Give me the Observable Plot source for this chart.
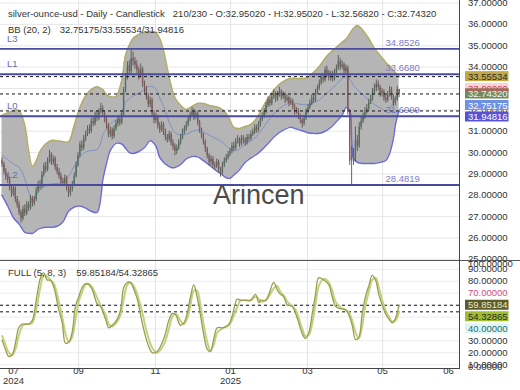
<!DOCTYPE html>
<html><head><meta charset="utf-8">
<script src="https://cdn.jsdelivr.net/npm/d3@7"></script>
<script src="https://cdn.jsdelivr.net/npm/@observablehq/plot@0.6"></script>
<style>
html,body{margin:0;padding:0;background:#fff;}
#wrap{position:relative;width:520px;height:390px;overflow:hidden;font-family:'Liberation Sans',Arial,sans-serif;}
.t{position:absolute;font-size:9.5px;line-height:11px;color:#333;white-space:pre;}
.ln{position:absolute;background:#4a4a4a;}
</style></head><body>
<div id="wrap"></div>
<script>
// ---------- data ----------
const open = [29.60,29.45,29.10,28.85,28.70,28.35,28.05,28.30,27.80,27.55,
27.20,26.90,27.35,27.15,27.55,27.40,27.85,27.60,27.80,28.20,
28.50,28.40,28.95,29.35,29.20,29.60,29.90,29.55,29.70,29.30,
29.10,28.90,28.65,28.55,28.80,28.35,28.10,28.30,28.50,28.90,
29.40,29.85,30.35,30.20,30.65,30.85,31.10,31.00,31.45,31.35,
31.75,31.60,31.90,32.05,31.85,31.55,31.25,30.85,31.05,30.75,
31.10,31.35,31.55,31.40,31.80,32.90,33.50,34.05,33.80,34.40,
34.25,34.10,33.85,33.60,33.90,33.20,32.95,32.60,32.25,32.45,
31.80,31.50,31.65,31.25,31.05,31.30,30.95,30.70,30.60,30.85,
30.45,30.30,30.05,30.20,30.45,30.70,30.95,31.10,31.30,31.55,
31.75,31.90,31.65,31.80,31.40,31.05,30.80,30.50,30.15,29.85,
29.55,29.70,29.40,29.35,29.55,29.20,29.05,29.40,29.60,29.75,
29.90,30.05,30.30,30.20,30.50,30.60,30.40,30.65,30.55,30.45,
30.70,30.65,30.85,30.95,31.15,31.05,31.30,31.55,31.70,31.90,
32.20,32.45,32.30,32.60,32.75,32.50,32.70,32.85,32.60,32.70,
32.45,32.55,32.30,32.40,32.15,31.90,31.95,31.70,31.50,31.35,
31.60,31.90,32.10,32.30,32.55,32.45,32.80,33.00,33.25,33.50,
33.40,33.85,33.70,33.50,33.65,33.45,33.75,33.95,34.25,34.00,
34.10,33.80,33.95,31.90,29.60,29.85,29.70,30.55,30.30,31.20,
31.45,31.65,31.90,32.05,32.35,32.50,32.80,33.00,33.20,33.05,
32.75,32.85,32.55,32.45,32.70,32.95,32.60,32.30,32.45,32.95];
const high = [29.75,29.55,29.25,29.00,28.85,28.50,28.45,28.40,27.95,27.70,
27.30,27.50,27.55,27.70,27.70,28.00,27.95,27.95,28.35,28.65,
28.70,29.10,29.50,29.55,29.75,30.10,30.00,29.85,29.80,29.45,
29.25,29.05,28.80,28.95,28.90,28.50,28.45,28.65,29.05,29.55,
30.00,30.50,30.55,30.80,31.00,31.25,31.30,31.60,31.65,31.90,
31.95,32.05,32.30,32.20,31.95,31.65,31.35,31.20,31.15,31.25,
31.50,31.70,31.70,31.95,33.05,33.70,34.25,34.30,34.85,34.70,
34.45,34.30,34.00,34.15,34.00,33.35,33.10,32.75,32.60,32.55,
31.95,31.85,31.75,31.40,31.45,31.40,31.10,30.85,31.00,30.95,
30.60,30.40,30.35,30.60,30.85,31.10,31.25,31.45,31.70,31.90,
32.10,32.05,31.95,31.90,31.50,31.15,30.90,30.60,30.25,29.95,
29.85,29.80,29.55,29.70,29.65,29.30,29.55,29.75,29.90,30.05,
30.20,30.45,30.50,30.65,30.80,30.70,30.80,30.80,30.70,30.85,
30.85,31.00,31.10,31.30,31.30,31.45,31.70,31.85,32.05,32.35,
32.60,32.60,32.75,32.95,32.85,32.85,33.05,32.95,32.85,32.80,
32.70,32.65,32.55,32.50,32.25,32.10,32.05,31.80,31.60,31.75,
32.05,32.25,32.45,32.70,32.70,32.95,33.15,33.40,33.65,33.70,
34.00,34.05,33.85,33.80,33.80,33.90,34.10,34.55,34.40,34.30,
34.20,34.10,34.05,32.00,30.30,30.20,31.20,30.80,31.40,31.65,
31.85,32.10,32.25,32.50,32.70,33.00,33.20,33.40,33.35,33.15,
33.00,32.95,32.70,32.85,33.10,33.05,32.70,32.60,33.10,32.95];
const low = [29.30,28.95,28.70,28.55,28.20,27.90,27.95,27.65,27.40,27.05,
26.70,26.80,27.00,27.05,27.25,27.30,27.45,27.50,27.70,28.10,
28.25,28.30,28.85,29.05,29.10,29.50,29.40,29.40,29.15,28.95,
28.75,28.50,28.40,28.45,28.20,27.90,27.95,28.15,28.40,28.80,
29.30,29.75,30.05,30.10,30.50,30.75,30.85,30.90,31.20,31.25,
31.45,31.50,31.80,31.70,31.40,31.10,30.70,30.70,30.60,30.65,
31.00,31.20,31.25,31.30,31.70,32.80,33.40,33.65,33.70,34.05,
33.90,33.70,33.40,33.50,33.05,32.75,32.45,32.10,32.10,31.65,
31.35,31.35,31.10,30.90,30.95,30.80,30.55,30.45,30.50,30.30,
30.10,29.85,29.90,30.10,30.35,30.60,30.85,31.00,31.20,31.45,
31.65,31.50,31.55,31.25,30.90,30.65,30.35,30.00,29.70,29.40,
29.40,29.25,29.20,29.25,29.05,28.85,28.95,29.30,29.50,29.65,
29.80,29.95,30.05,30.10,30.40,30.25,30.30,30.40,30.30,30.35,
30.50,30.55,30.75,30.85,30.90,30.95,31.20,31.45,31.60,31.80,
32.10,32.15,32.20,32.50,32.35,32.40,32.60,32.45,32.50,32.30,
32.35,32.15,32.20,32.00,31.75,31.80,31.55,31.35,31.15,31.25,
31.50,31.80,32.00,32.20,32.30,32.35,32.70,32.90,33.15,33.25,
33.30,33.55,33.35,33.35,33.30,33.35,33.65,33.85,33.85,33.90,
33.65,33.60,31.75,29.40,28.48,29.40,29.55,30.05,30.20,31.05,
31.35,31.55,31.80,31.95,32.25,32.40,32.70,32.85,32.90,32.60,
32.60,32.40,32.30,32.35,32.60,32.45,32.15,32.20,32.40,32.57];
const close = [29.45,29.10,28.85,28.70,28.35,28.05,28.30,27.80,27.55,27.20,
26.90,27.35,27.15,27.55,27.40,27.85,27.60,27.80,28.20,28.50,
28.40,28.95,29.35,29.20,29.60,29.90,29.55,29.70,29.30,29.10,
28.90,28.65,28.55,28.80,28.35,28.10,28.30,28.50,28.90,29.40,
29.85,30.35,30.20,30.65,30.85,31.10,31.00,31.45,31.35,31.75,
31.60,31.90,32.05,31.85,31.55,31.25,30.85,31.05,30.75,31.10,
31.35,31.55,31.40,31.80,32.90,33.50,34.05,33.80,34.40,34.25,
34.10,33.85,33.60,33.90,33.20,32.95,32.60,32.25,32.45,31.80,
31.50,31.65,31.25,31.05,31.30,30.95,30.70,30.60,30.85,30.45,
30.30,30.05,30.20,30.45,30.70,30.95,31.10,31.30,31.55,31.75,
31.90,31.65,31.80,31.40,31.05,30.80,30.50,30.15,29.85,29.55,
29.70,29.40,29.35,29.55,29.20,29.05,29.40,29.60,29.75,29.90,
30.05,30.30,30.20,30.50,30.60,30.40,30.65,30.55,30.45,30.70,
30.65,30.85,30.95,31.15,31.05,31.30,31.55,31.70,31.90,32.20,
32.45,32.30,32.60,32.75,32.50,32.70,32.85,32.60,32.70,32.45,
32.55,32.30,32.40,32.15,31.90,31.95,31.70,31.50,31.35,31.60,
31.90,32.10,32.30,32.55,32.45,32.80,33.00,33.25,33.50,33.40,
33.85,33.70,33.50,33.65,33.45,33.75,33.95,34.25,34.00,34.10,
33.80,33.95,31.90,29.60,29.85,29.70,30.55,30.30,31.20,31.45,
31.65,31.90,32.05,32.35,32.50,32.80,33.00,33.20,33.05,32.75,
32.85,32.55,32.45,32.70,32.95,32.60,32.30,32.45,32.95,32.74320];

// Bollinger band (20, 2) read at bar indexes
const bbI = [0,3,6,9,12,14,16,18,20,23,26,29,32,35,38,41,44,47,50,52,53,55,57,60,63,65,67,69,72,75,78,81,83,85,87,89,91,94,97,100,103,106,109,112,115,118,120,122,125,128,131,134,137,140,143,146,149,152,155,158,161,164,167,170,173,176,179,181,183,184,185,187,190,193,196,199,202,204,206,207,208,209];
const bbUp = [31.74,31.85,31.97,31.97,31.27,30.10,29.35,29.60,30.05,30.40,30.57,30.55,30.52,30.50,31.27,32.10,32.65,32.95,33.08,33.00,32.95,32.72,32.62,32.62,33.38,34.55,35.02,35.34,35.53,35.63,35.67,35.63,35.34,34.78,33.94,33.14,32.58,32.21,32.02,32.16,32.30,32.30,32.21,32.16,32.07,31.83,31.51,31.18,31.13,31.22,31.32,31.60,32.07,32.54,32.91,33.19,33.38,33.47,33.47,33.47,33.52,33.75,34.03,34.41,34.69,34.92,35.16,35.30,35.55,35.70,35.81,35.95,35.72,35.34,34.88,34.55,34.22,34.05,33.85,33.75,33.65,33.55534];
const bbLo = [28.00,27.50,26.95,26.65,26.26,26.22,26.22,26.35,26.45,26.50,26.50,26.55,26.75,27.25,27.45,27.50,27.40,27.25,27.20,27.90,28.70,29.49,30.10,30.43,30.40,30.20,30.00,29.96,30.05,30.24,30.55,30.30,29.77,29.55,29.40,29.30,29.30,29.45,29.70,29.82,29.80,29.62,29.42,29.20,29.02,28.82,28.80,28.95,29.20,29.55,29.75,29.92,30.15,30.43,30.72,30.95,31.10,31.18,31.10,31.02,30.93,30.90,30.90,31.00,31.18,31.45,31.75,32.11,31.97,30.57,29.73,29.54,29.49,29.49,29.49,29.54,29.63,29.96,30.66,31.27,31.69,31.94816];
const bbMid = [29.87,29.68,29.46,29.31,28.77,28.16,27.79,27.98,28.25,28.45,28.54,28.55,28.64,28.88,29.36,29.80,30.03,30.10,30.14,30.45,30.83,31.11,31.36,31.53,31.89,32.38,32.51,32.65,32.79,32.94,33.11,32.97,32.56,32.17,31.67,31.22,30.94,30.83,30.86,30.99,31.05,30.96,30.82,30.68,30.55,30.33,30.16,30.07,30.17,30.39,30.54,30.76,31.11,31.49,31.82,32.07,32.24,32.33,32.29,32.25,32.23,32.33,32.47,32.71,32.94,33.19,33.46,33.55,33.45,33.30,33.15,32.95,32.70,32.45,32.25,32.10,31.95,32.05,32.35,32.55,32.68,32.75175];

// Full stochastic (5, 8, 3)
const stI = [0.1,1.8,3.6,5.4,7.1,8.8,10.6,12.4,14.1,15.9,16.7,18.5,20.3,22.0,23.8,25.5,27.3,29.9,31.7,33.4,35.2,36.9,38.7,40.4,42.2,43.9,45.7,47.5,50.1,51.8,54.5,56.2,58.0,60.6,62.4,64.1,65.9,67.6,69.4,71.2,73.8,76.4,79.1,81.7,85.2,87.8,89.6,91.3,93.9,95.7,97.5,99.2,100.9,102.7,104.5,106.2,108.0,109.7,111.5,113.3,116.7,119.4,121.2,123.8,125.5,128.2,130.8,133.4,135.2,136.1,138.7,140.4,143.0,144.8,146.6,148.3,150.1,152.7,154.5,156.2,158.0,159.7,161.5,163.3,165.0,166.7,169.4,172.0,173.8,175.5,178.2,180.8,182.5,184.3,186.1,187.8,189.6,191.3,193.2,194.8,196.6,198.3,200.1,201.8,203.7,205.4,207.1,209];
const stK = [30.6,22.6,16.9,18.5,28.2,41,44,44,44,47,51,69,83,87,81,81,75,56,45,28,29,37,59,67,75,78,77,73,61,59,48,41,43,48,56,75,79,79,73,65,45,29,20,21,32,47,53,52,43,45,53,67,77,67,51,35,23,21,32,41,41,44,51,65,64,64,64,69,62,64,64,69,79,73,69,67,60,59,53,45,36,32,37,53,69,83,81,77,67,59,57,56,52,43,31,33,53,67,77,85,81,69,60,53,48,45,49,59.85184];
const stD = [34,27,20,18,23,34,42,44,44,45,48,60,76,85,84,81,78,63,50,36,29,33,48,63,71,77,78,75,66,60,52,44,42,46,52,65,77,79,76,69,54,36,24,20,27,40,50,53,47,44,49,60,72,72,59,43,29,22,27,37,41,43,48,58,64,64,64,67,65,63,64,67,74,76,71,68,63,59,56,49,40,34,35,45,61,76,82,79,72,63,58,56,54,47,37,32,43,60,72,81,83,75,64,56,50,46,47,54.32865];

// levels, ticks, labels
const levelValues = [34.8526, 33.6680, 31.6999, 28.4819];
const levelNames = ["L3", "L1", "L0", "L2"];
const dashPrice = [33.55534, 32.74320, 31.94816];
const dashOsc = [59.85184, 54.32865];
const priceTicks = [25,26,27,28,29,30,31,32,33,34,35,36,37];
const oscTicks = [100,90,80,70,60,50,40,30,20,10,0].filter(v => v !== 60 && v !== 50);
const monthIdx = [6.05, 40.3, 80.8, 120.3, 160.8, 200.3, 235.0];
const monthLabels = ["07","09","11","01","03","05","06"];
const yearIdx = [6.05, 120.3];
const yearLabels = ["2024","2025"];
const gridIdx = [40.3, 80.8, 120.3, 160.8, 200.3];
const levelLabelIdx = 201.8, levelNameIdx = 2.6;

// ---------- layout ----------
const W = 520, PW = 460;
const idxX = [-0.79, 241.3];
const priceY = [24.90, 37.12];
const oscY = [5.9, 96.6];
const PH = 261, OH = 129, OMB = 21;
const font = "'Liberation Sans', Arial, sans-serif";

const candles = close.map((c, i) => ({i, o: open[i], h: high[i], l: low[i], c}));
const bb = bbI.map((i, k) => ({i, up: bbUp[k], lo: bbLo[k], mid: bbMid[k]}));
const st = stI.map((i, k) => ({i, k: stK[k], d: stD[k]}));
const levels = levelValues.map((v, k) => ({v, name: levelNames[k]}));
const months = monthIdx.map((i, k) => ({i, t: monthLabels[k]}));
const years = yearIdx.map((i, k) => ({i, t: yearLabels[k]}));

const xPix = d3.scaleLinear().domain(idxX).range([0, PW]);
const yPix = d3.scaleLinear().domain(priceY).range([PH, 0]);
const oPix = d3.scaleLinear().domain(oscY).range([OH - OMB, 0]);

function stack(list, sc, gap) {
  let prev = -1e9;
  return list.map(d => { const p = Math.max(sc(d.v), prev + gap); prev = p; return {...d, p}; });
}
function boxMarks(list, sc) {
  const out = [];
  const x1 = xPix.invert(465), x2 = xPix.invert(508.5), xt = xPix.invert(467.5);
  for (const d of list) {
    if (d.bg) out.push(Plot.rect([d], {x1, x2, y1: sc.invert(d.p + 5), y2: sc.invert(d.p - 5), fill: d.bg}));
    if (d.stripe) out.push(Plot.rect([d], {x1, x2, y1: sc.invert(d.p - 2.3), y2: sc.invert(d.p - 5), fill: d.stripe}));
    out.push(Plot.text([d], {x: xt, y: sc.invert(d.p), text: () => d.txt, fill: d.fg, textAnchor: "start"}));
  }
  return out;
}

const pinkLabel = [{v: 33, txt: "33.00000", bg: "#f7d3da", fg: "#c8404e", p: yPix(33)}];
const priceBoxes = stack([
  {v: 33.55534, txt: "33.55534", bg: "#c3a944", fg: "#2b2b2b"},
  {v: 32.74320, txt: "32.74320", bg: "#6f8a60", fg: "#f2f2f2", stripe: "#a9655b"},
  {v: 32.75175, txt: "32.75175", bg: "#6d8fe4", fg: "#ffffff"},
  {v: 31.94816, txt: "31.94816", bg: "#5a52d2", fg: "#ffffff"}
], yPix, 11.5);
const oscBoxes = stack([
  {v: 59.85184, txt: "59.85184", bg: "#5d5b27", fg: "#e8e8cc"},
  {v: 54.32865, txt: "54.32865", bg: "#a0bd30", fg: "#2b2b2b"}
], oPix, 11.5);
const cyanLabel = [{v: 40, txt: "40.00000", bg: "#dcf5f5", fg: "#2f6d6d", p: oPix(40)}];
const clampOsc = v => Math.max(oscY[0] + 2.5, Math.min(oscY[1] - 2.2, v));

const curve = "catmull-rom";
const fmt5 = d => d.toFixed(5);

const price = Plot.plot({
  width: W, height: PH,
  marginLeft: 0, marginRight: W - PW, marginTop: 0, marginBottom: 0,
  x: {domain: idxX, axis: null},
  y: {domain: priceY, axis: null},
  style: {fontFamily: font, fontSize: "9.5px", background: "transparent", overflow: "visible"},
  marks: [
    Plot.ruleY(priceTicks, {stroke: "#e7e7e7"}),
    Plot.ruleX(gridIdx, {stroke: "#e4e4e4"}),
    Plot.areaY(bb, {x: "i", y1: "lo", y2: "up", fill: "#b5b5b5", curve}),
    Plot.line(bb, {x: "i", y: "mid", stroke: "#8090c8", strokeWidth: 1, curve}),
    Plot.line(bb, {x: "i", y: "up", stroke: "#b4ad68", strokeWidth: 1.5, curve}),
    Plot.line(bb, {x: "i", y: "lo", stroke: "#6d6dd8", strokeWidth: 1.5, curve}),
    Plot.ruleX(candles, {x: "i", y1: "l", y2: "h", stroke: "#555", strokeWidth: 0.9}),
    Plot.ruleX(candles, {filter: d => d.c >= d.o, x: "i", y1: "o", y2: "c", stroke: "#52705c", strokeWidth: 1.4}),
    Plot.ruleX(candles, {filter: d => d.c < d.o, x: "i", y1: "o", y2: "c", stroke: "#8a5656", strokeWidth: 1.4}),
    Plot.ruleY(levels, {y: "v", stroke: "#4b4b9e", strokeWidth: 1.8}),
    Plot.ruleY(dashPrice, {stroke: "#111", strokeWidth: 1, strokeDasharray: "3,3"}),
    Plot.text(levels, {x: levelLabelIdx, y: "v", text: d => d.v.toFixed(4), dy: -6, textAnchor: "start", fill: "#7b7bc6"}),
    Plot.text(levels, {x: levelNameIdx, y: "v", text: "name", dy: -10, textAnchor: "start", fill: "#6b6bb8"}),
    Plot.text(priceTicks, {y: d => d, text: fmt5, frameAnchor: "right", dx: 7.5, textAnchor: "start", fill: "#333"}),
    ...boxMarks(pinkLabel, yPix),
    ...boxMarks(priceBoxes, yPix)
  ]
});

const osc = Plot.plot({
  width: W, height: OH,
  marginLeft: 0, marginRight: W - PW, marginTop: 0, marginBottom: OMB,
  x: {domain: idxX, axis: null},
  y: {domain: oscY, axis: null},
  style: {fontFamily: font, fontSize: "9.5px", background: "transparent", overflow: "visible"},
  marks: [
    Plot.ruleY([10,20,30,40,50,60,70,80,90], {stroke: "#ececec"}),
    Plot.ruleX(gridIdx, {stroke: "#e4e4e4"}),
    Plot.ruleY(dashOsc, {stroke: "#111", strokeWidth: 1, strokeDasharray: "3,3"}),
    Plot.line(st, {x: "i", y: "d", stroke: "#bcd482", strokeWidth: 2, curve}),
    Plot.line(st, {x: "i", y: "k", stroke: "#a09a4c", strokeWidth: 1.3, curve}),
    Plot.text(oscTicks.filter(v => v !== 70 && v !== 40), {y: clampOsc, text: fmt5, frameAnchor: "right", dx: 7.5, textAnchor: "start", fill: "#333"}),
    Plot.text([70], {y: d => d, text: fmt5, frameAnchor: "right", dx: 7.5, textAnchor: "start", fill: "#d9487f"}),
    ...boxMarks(cyanLabel, oPix),
    ...boxMarks(oscBoxes, oPix),
    Plot.text(months, {x: "i", text: "t", frameAnchor: "bottom", dy: 4.5, fill: "#333"}),
    Plot.text(years, {x: "i", text: "t", frameAnchor: "bottom", dy: 14.5, fill: "#333"})
  ]
});

const wrap = document.getElementById("wrap");
for (const [svg, top] of [[price, 0], [osc, PH]]) {
  svg.style.position = "absolute";
  svg.style.left = "0px";
  svg.style.top = top + "px";
  wrap.appendChild(svg);
}
wrap.insertAdjacentHTML("beforeend", `
<div class="ln" style="left:0;top:260px;width:520px;height:1px;background:#555"></div>
<div class="ln" style="left:459px;top:0;width:1px;height:369px;background:#444"></div>
<div class="ln" style="left:0;top:368px;width:460px;height:1px;background:#444"></div>
<div class="t" style="left:8px;top:7.5px">silver-ounce-usd - Daily - Candlestick<span style="margin-left:8px">210/230 - O:32.95020 - H:32.95020 - L:32.56820 - C:32.74320</span></div>
<div class="t" style="left:8px;top:23.5px">BB (20, 2)<span style="margin-left:9px">32.75175/33.55534/31.94816</span></div>
<div class="t" style="left:8px;top:267px">FULL (5, 8, 3)<span style="margin-left:10px">59.85184/54.32865</span></div>
<div style="position:absolute;left:213px;top:182px;font-size:27px;line-height:27px;color:#4b4b4b;white-space:pre">Arincen</div>
`);
</script>
</body></html>
